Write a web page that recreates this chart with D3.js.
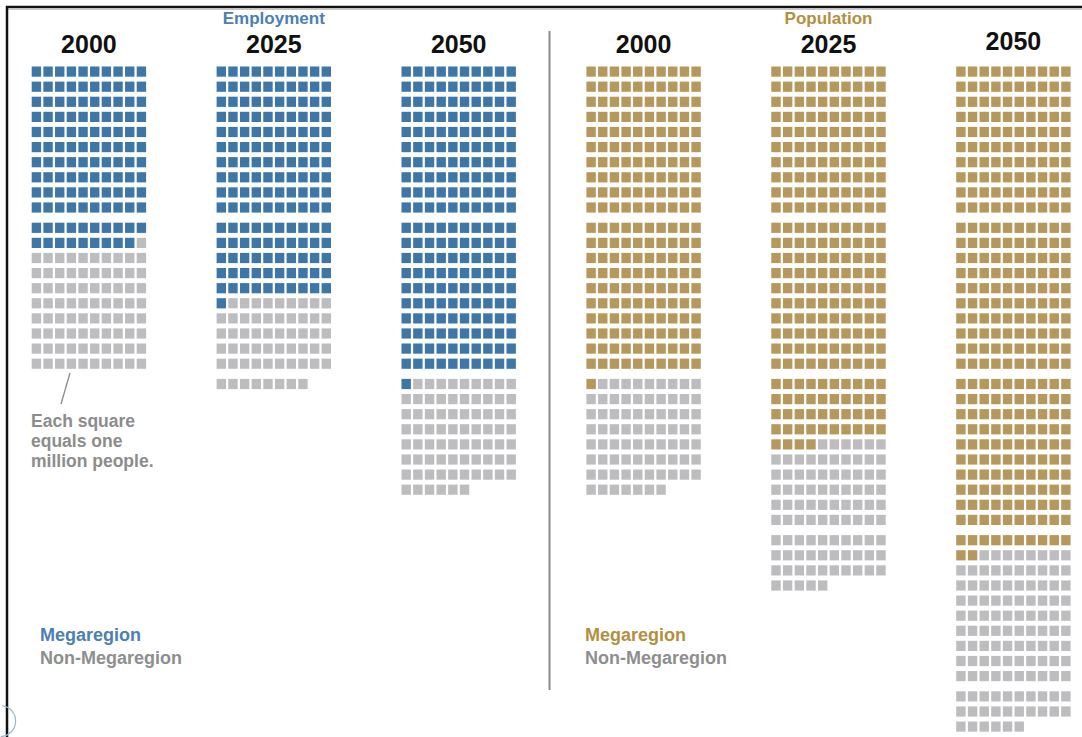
<!DOCTYPE html>
<html><head><meta charset="utf-8">
<script src="https://cdn.jsdelivr.net/npm/d3@7/dist/d3.min.js"></script>
<style>body{margin:0;background:#fff;}svg{display:block;}</style>
</head><body>
<svg id="chart" width="1082" height="737"></svg>
<script>
// ---- data (each square = one million people) ----
const groups = ["Employment", "Population"];
const years = ["2000", "2025", "2050"];
const employmentMega = [119, 151, 201];
const employmentNon = [81, 57, 75];
const populationMega = [201, 244, 312];
const populationNon = [76, 91, 114];
const legendLabels = ["Megaregion", "Non-Megaregion"];
const noteLines = ["Each square", "equals one", "million people."];

const colors = {Employment: "#3f76a8", Population: "#b6975c", non: "#bdbdbf",
  EmploymentText: "#4a80b3", PopulationText: "#b48f40", legendNon: "#8e8e8e"};

const panels = [];
groups.forEach((g, gi) => years.forEach((y, yi) => {
  const mega = gi === 0 ? employmentMega[yi] : populationMega[yi];
  const non = gi === 0 ? employmentNon[yi] : populationNon[yi];
  panels.push({key: g + y, group: g, year: y, mega, non});
}));

const svg = d3.select("#chart");
const font = "'Liberation Sans', Arial, sans-serif";

// frame (screenshot border)
svg.append("line").attr("x1", 6).attr("x2", 1082).attr("y1", 7).attr("y2", 7).attr("stroke", "#111").attr("stroke-width", 2.5);
svg.append("line").attr("x1", 7).attr("x2", 1082).attr("y1", 9.5).attr("y2", 9.5).attr("stroke", "#c8c8c8").attr("stroke-width", 1);
svg.append("line").attr("x1", 7).attr("x2", 7).attr("y1", 6).attr("y2", 737).attr("stroke", "#111").attr("stroke-width", 2.5);
svg.append("path").attr("d", d3.arc()({innerRadius: 15, outerRadius: 16.2, startAngle: 0.15, endAngle: Math.PI - 0.05}))
  .attr("transform", "translate(0,721)").attr("fill", "#9db6cf");

// scales
const panelX = d3.scalePoint().domain(panels.map(p => p.key)).range([31.7, 956.2]);
const colX = d3.scaleLinear().domain([0, 9]).range([0, 105]);
const pitchY = 15.1, blockGap = 5.2;
const rowY = d3.scaleLinear().domain([0, 1]).range([66.5, 66.5 + pitchY]);
const sqW = 9.4, sqH = 10.2;
const gridW = colX(9) + sqW;

const g = svg.append("g");
panels.forEach((p, pi) => {
  const total = p.mega + p.non;
  const cells = d3.range(total).map(i => ({i, mega: i < p.mega}));
  const pg = g.append("g").attr("transform", `translate(${panelX(p.key)},0)`);
  pg.selectAll("rect").data(cells).join("rect")
    .attr("x", d => colX(d.i % 10))
    .attr("y", d => { const r = Math.floor(d.i / 10); return rowY(r) + Math.floor(r / 10) * blockGap; })
    .attr("width", sqW).attr("height", sqH)
    .attr("fill", d => d.mega ? colors[p.group] : colors.non);
  // year title
  pg.append("text").attr("x", gridW / 2).attr("y", pi === 5 ? 49.5 : 52.5)
    .attr("text-anchor", "middle").attr("font-family", font).attr("font-weight", "bold")
    .attr("font-size", 25).attr("fill", "#111").text(p.year);
  // group title above middle panel
  if (p.year === "2025") {
    pg.append("text").attr("x", gridW / 2).attr("y", 23.5).attr("text-anchor", "middle")
      .attr("font-family", font).attr("font-weight", "bold").attr("font-size", 17)
      .attr("fill", colors[p.group + "Text"]).text(p.group);
  }
});

// divider
svg.append("line").attr("x1", 549.5).attr("x2", 549.5).attr("y1", 31).attr("y2", 690)
  .attr("stroke", "#8a8a8a").attr("stroke-width", 2);

// note
svg.append("line").attr("x1", 70).attr("y1", 373).attr("x2", 61).attr("y2", 404)
  .attr("stroke", "#8a8a8a").attr("stroke-width", 1.3);
svg.append("text").attr("font-family", font).attr("font-weight", "bold").attr("font-size", 17.5)
  .attr("fill", "#8c8c8c")
  .selectAll("tspan").data(noteLines).join("tspan")
  .attr("x", 31).attr("y", (d, i) => 427 + i * 20).text(d => d);

// legends
groups.forEach((gname, gi) => {
  const lx = gi === 0 ? 40 : 585;
  legendLabels.forEach((lab, li) => {
    svg.append("text").attr("x", lx).attr("y", 641 + li * 23).attr("font-family", font)
      .attr("font-weight", "bold").attr("font-size", 18)
      .attr("fill", li === 0 ? colors[gname + "Text"] : colors.legendNon).text(lab);
  });
});
</script>
</body></html>
